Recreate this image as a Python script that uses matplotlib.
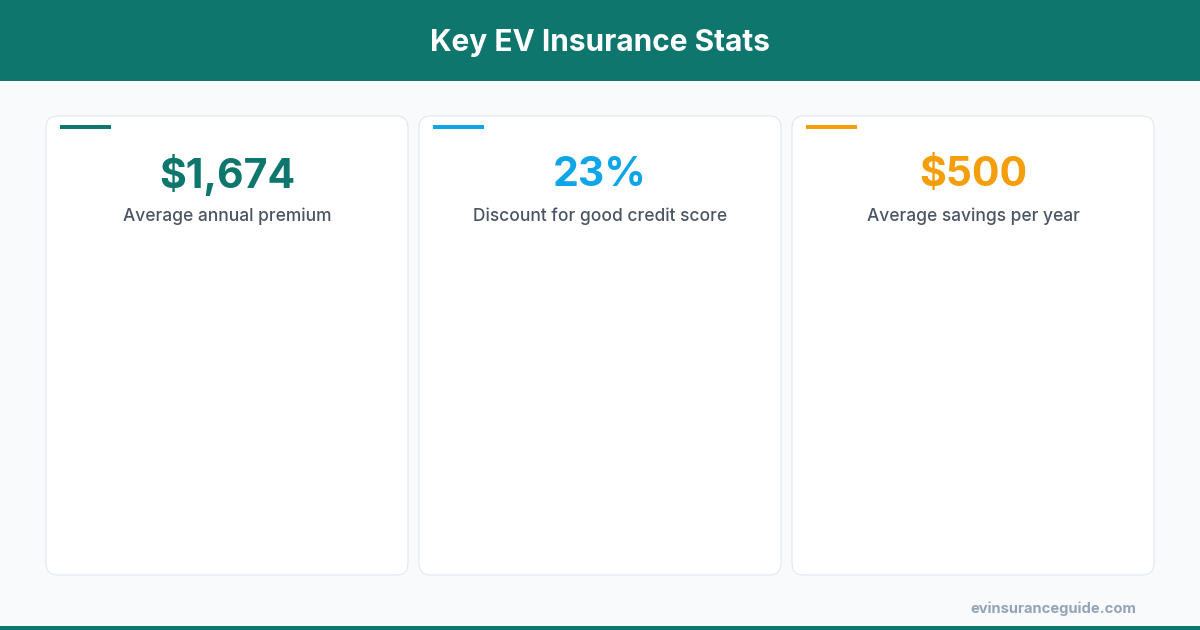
import matplotlib.pyplot as plt
from matplotlib.patches import FancyBboxPatch, Rectangle

plt.rcParams['font.family'] = ['Inter', 'DejaVu Sans']

title = 'Key EV Insurance Stats'
stat_values = ['$1,674', '23%', '$500']
stat_labels = ['Average annual premium', 'Discount for good credit score', 'Average savings per year']
stat_colors = ['#0F766E', '#0EA5E9', '#F59E0B']
source = 'evinsuranceguide.com'

teal = '#0F766E'

fig = plt.figure(figsize=(12, 6.3), dpi=100)
fig.patch.set_facecolor('#F8FAFC')
ax = fig.add_axes([0, 0, 1, 1])
ax.set_xlim(0, 1200)
ax.set_ylim(630, 0)
ax.axis('off')

# header band and bottom strip
ax.add_patch(Rectangle((0, 0), 1200, 81, color=teal, lw=0))
ax.add_patch(Rectangle((0, 626), 1200, 4, color=teal, lw=0))
ax.text(600, 43, title, color='white', fontsize=21.5, fontweight='bold',
        ha='center', va='center')

# cards
card_w, card_h, gap = 362, 459, 11
x0, y0 = 46, 116
for i, (val, lab, col) in enumerate(zip(stat_values, stat_labels, stat_colors)):
    cx = x0 + i * (card_w + gap)
    ax.add_patch(FancyBboxPatch((cx, y0), card_w, card_h,
                                boxstyle='round,pad=0,rounding_size=12',
                                fc='white', ec='#E2E8F0', lw=0.8))
    ax.add_patch(Rectangle((cx + 14, y0 + 9), 51, 4, color=col, lw=0))
    ax.text(cx + card_w / 2, y0 + 59, val, color=col, fontsize=29.5,
            fontweight='bold', ha='center', va='center')
    ax.text(cx + card_w / 2, y0 + 100, lab, color='#4B5563', fontsize=12.5,
            fontweight='medium', ha='center', va='center')

ax.text(1136, 609, source, color='#94A3B8', fontsize=10.6, fontweight='bold',
        ha='right', va='center')

fig.savefig('out.png', dpi=100, facecolor=fig.get_facecolor())
